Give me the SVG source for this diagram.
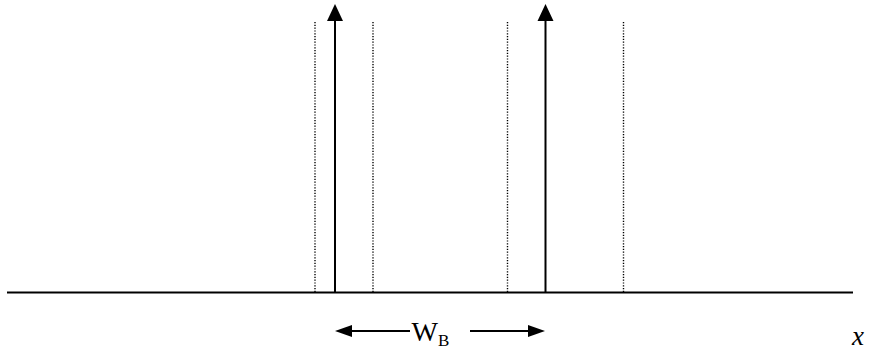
<svg xmlns="http://www.w3.org/2000/svg" width="881" height="353" viewBox="0 0 881 353">
<style>
.ax{stroke:#000;stroke-width:2;fill:none}
.dot{stroke:#000;stroke-width:1.4;stroke-dasharray:1.2,1.6;fill:none}
.t{font-family:"Liberation Serif",serif;fill:#000}
</style>
<rect width="881" height="353" fill="#fff"/>
<g id="axis"><line class="ax" x1="7" y1="292.5" x2="853" y2="292.5"/></g>
<g id="guides">
<line class="dot" x1="315" y1="22" x2="315" y2="292"/>
<line class="dot" x1="373" y1="22" x2="373" y2="292"/>
<line class="dot" x1="507.5" y1="22" x2="507.5" y2="292"/>
<line class="dot" x1="623.5" y1="22" x2="623.5" y2="292"/>
</g>
<g id="connectors">
<line class="ax" x1="335" y1="292" x2="335" y2="20"/>
<polygon points="335,4 327,21 343,21" fill="#000"/>
<line class="ax" x1="545.5" y1="292" x2="545.5" y2="20"/>
<polygon points="545.5,4 537.5,21 553.5,21" fill="#000"/>
<line class="ax" x1="350" y1="331" x2="410" y2="331"/>
<polygon points="335,331 352,325 352,337" fill="#000"/>
<line class="ax" x1="470" y1="331" x2="530" y2="331"/>
<polygon points="545,331 528,325 528,337" fill="#000"/>
</g>
<g id="label-wb"><text class="t" x="411.5" y="340.7" font-size="28">W<tspan font-size="17" dy="5.3">B</tspan></text></g>
<g id="label-x"><text class="t" x="852" y="345" font-size="27" font-style="italic">x</text></g>
</svg>
